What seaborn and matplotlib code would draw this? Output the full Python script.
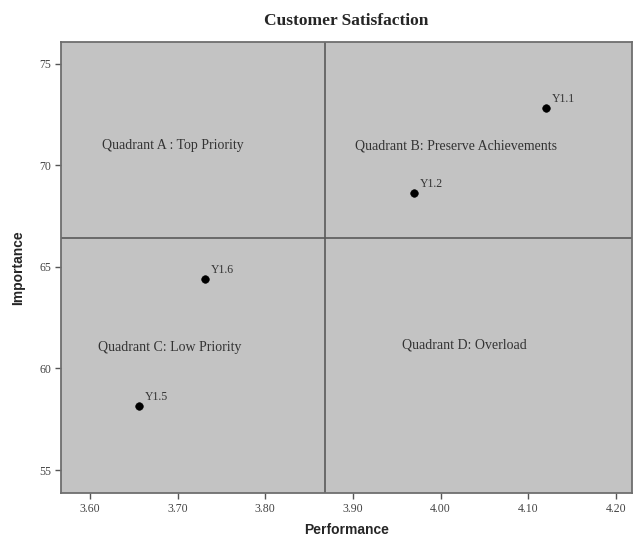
import matplotlib
matplotlib.use("Agg")
import matplotlib.pyplot as plt
import pandas as pd
import seaborn as sns

# items and their mean scores
items = ["Y1.1", "Y1.2", "Y1.6", "Y1.5"]
performance = [4.120, 3.970, 3.731, 3.656]
importance = [72.83, 68.64, 64.41, 58.15]

# quadrant split (means)
perf_mean = 3.868
imp_mean = 66.44

quadrant_labels = ["Quadrant A : Top Priority", "Quadrant B: Preserve Achievements",
                   "Quadrant C: Low Priority", "Quadrant D: Overload"]
quadrant_x = [3.695, 4.018, 3.691, 4.027]
quadrant_y = [71.0, 70.95, 61.05, 61.15]

xticks = [3.60, 3.70, 3.80, 3.90, 4.00, 4.10, 4.20]
yticks = [55, 60, 65, 70, 75]

df = pd.DataFrame({"item": items, "Performance": performance, "Importance": importance})

sns.set_style("white")
serif = ["Liberation Serif", "DejaVu Serif"]
sans = ["Liberation Sans", "DejaVu Sans"]

fig = plt.figure(figsize=(6.35, 5.37), dpi=100)
ax = fig.add_axes([0.096, 0.082, 0.899, 0.840])
ax.set_facecolor("#c3c3c3")

sns.scatterplot(data=df, x="Performance", y="Importance", color="black",
                s=30, edgecolor="black", ax=ax, zorder=3)

for it, px, py in zip(items, performance, importance):
    ax.annotate(it, (px, py), xytext=(4, 4), textcoords="offset points",
                fontsize=8.5, family=serif, color="#333333")

ax.axvline(perf_mean, color="#5a5a5a", lw=1.2)
ax.axhline(imp_mean, color="#5a5a5a", lw=1.2)

for lab, qx, qy in zip(quadrant_labels, quadrant_x, quadrant_y):
    ax.text(qx, qy, lab, ha="center", va="center", fontsize=10,
            family=serif, color="#333333")

ax.set_xlim(3.567, 4.218)
ax.set_ylim(53.87, 76.08)
ax.set_xticks(xticks)
ax.set_xticklabels([f"{t:.2f}" for t in xticks])
ax.set_yticks(yticks)
ax.tick_params(axis="both", which="both", bottom=True, left=True, length=4, width=1,
               color="#555555", labelsize=8.5, labelcolor="#444444",
               direction="out", pad=3)
for lab in ax.get_xticklabels() + ax.get_yticklabels():
    lab.set_family(serif)

for sp in ax.spines.values():
    sp.set_color("#6e6e6e")
    sp.set_linewidth(1.3)

ax.set_xlabel("Performance", fontsize=10, fontweight="bold", family=sans, labelpad=6)
ax.set_ylabel("Importance", fontsize=10, fontweight="bold", family=sans, labelpad=10)
ax.set_title("Customer Satisfaction", fontsize=12.5, fontweight="bold",
             family=serif, pad=12)

fig.savefig("out.png", dpi=100)
